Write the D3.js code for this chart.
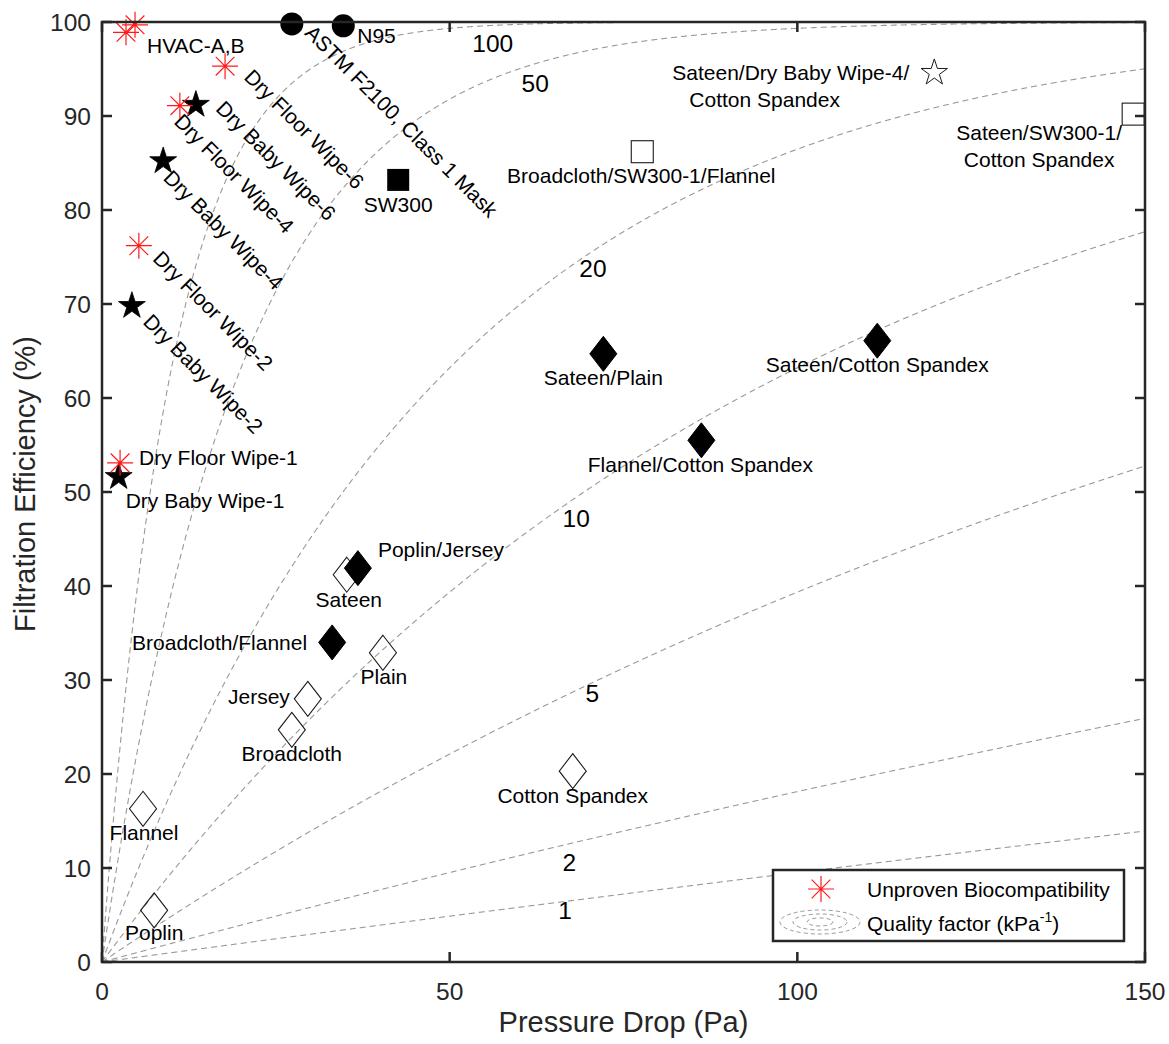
<!DOCTYPE html>
<html><head><meta charset="utf-8">
<script src="https://cdn.jsdelivr.net/npm/d3@7"></script>
<style>body{margin:0;background:#fff}svg{display:block}</style>
</head><body><svg id="c" width="1169" height="1044"></svg>
<script>
// ---------------- data ----------------
const xTicks = [0, 50, 100, 150];
const yTicks = [0, 10, 20, 30, 40, 50, 60, 70, 80, 90, 100];
const xTitle = "Pressure Drop (Pa)";
const yTitle = "Filtration Efficiency (%)";

const qualityFactors = [1, 2, 5, 10, 20, 50, 100];      // kPa^-1
const qfLabelDP = [66.6, 67.2, 70.5, 68.2, 70.6, 62.3, 56.2];
const qfLabelFE = [5.5, 10.6, 28.6, 47.2, 73.8, 93.5, 97.8];

const unprovenNames = ["HVAC-A", "HVAC-B", "Dry Floor Wipe-6", "Dry Floor Wipe-4", "Dry Floor Wipe-2", "Dry Floor Wipe-1"];
const unprovenDP = [3.45, 4.75, 17.7, 11.2, 5.3, 2.6];
const unprovenFE = [98.9, 99.7, 95.3, 91.1, 76.2, 53.1];

const babyWipeNames = ["Dry Baby Wipe-6", "Dry Baby Wipe-4", "Dry Baby Wipe-2", "Dry Baby Wipe-1"];
const babyWipeDP = [13.5, 8.8, 4.3, 2.4];
const babyWipeFE = [91.2, 85.2, 69.8, 51.6];

const maskNames = ["ASTM F2100, Class 1 Mask", "N95"];
const maskDP = [27.3, 34.7];
const maskFE = [99.8, 99.6];

const sw300Names = ["SW300"];
const sw300DP = [42.6];
const sw300FE = [83.2];

const sw300LayerNames = ["Broadcloth/SW300-1/Flannel", "Sateen/SW300-1/Cotton Spandex"];
const sw300LayerDP = [77.7, 148.3];
const sw300LayerFE = [86.2, 90.2];

const wipeLayerNames = ["Sateen/Dry Baby Wipe-4/Cotton Spandex"];
const wipeLayerDP = [119.7];
const wipeLayerFE = [94.6];

const fabricNames = ["Sateen", "Plain", "Jersey", "Broadcloth", "Flannel", "Poplin", "Cotton Spandex"];
const fabricDP = [35.2, 40.4, 29.6, 27.3, 5.9, 7.5, 67.7];
const fabricFE = [41.2, 32.9, 28.0, 24.7, 16.3, 5.5, 20.3];

const fabricLayerNames = ["Sateen/Plain", "Sateen/Cotton Spandex", "Flannel/Cotton Spandex", "Poplin/Jersey", "Broadcloth/Flannel"];
const fabricLayerDP = [72.1, 111.5, 86.2, 36.8, 33.1];
const fabricLayerFE = [64.7, 66.1, 55.5, 41.9, 34.0];

const legendItems = ["Unproven Biocompatibility", "Quality factor (kPa"];

// ---------------- label layout (pixel offsets from marker) ----------------
const labelLayout = {
  "HVAC-A": {text: ["HVAC-A,B"], dx: 21, dy: 21, anchor: "start"},
  "N95": {dx: 14, dy: 17, anchor: "start"},
  "ASTM F2100, Class 1 Mask": {dx: 12, dy: 10, rot: 45},
  "Dry Floor Wipe-6": {dx: 18, dy: 12, rot: 45},
  "Dry Baby Wipe-6": {dx: 19, dy: 5, rot: 45},
  "Dry Floor Wipe-4": {dx: -7, dy: 17, rot: 45},
  "Dry Baby Wipe-4": {dx: -1, dy: 18, rot: 45},
  "Dry Floor Wipe-2": {dx: 13, dy: 14, rot: 45},
  "Dry Baby Wipe-2": {dx: 10, dy: 17, rot: 45},
  "Dry Floor Wipe-1": {dx: 19, dy: 2, anchor: "start"},
  "Dry Baby Wipe-1": {dx: 7, dy: 31, anchor: "start"},
  "SW300": {dx: 0, dy: 32, anchor: "middle"},
  "Broadcloth/SW300-1/Flannel": {dx: -1, dy: 31, anchor: "middle"},
  "Sateen/Dry Baby Wipe-4/Cotton Spandex": {text: ["Sateen/Dry Baby Wipe-4/", "Cotton Spandex"], lines: [[-262, 7], [-245, 34]], anchor: "start"},
  "Sateen/SW300-1/Cotton Spandex": {text: ["Sateen/SW300-1/", "Cotton Spandex"], lines: [[-94, 26], [-94, 53]], anchor: "middle"},
  "Sateen/Plain": {dx: 0, dy: 31, anchor: "middle"},
  "Sateen/Cotton Spandex": {dx: 0, dy: 31, anchor: "middle"},
  "Flannel/Cotton Spandex": {dx: -1, dy: 32, anchor: "middle"},
  "Poplin/Jersey": {dx: 20, dy: -11, anchor: "start"},
  "Sateen": {dx: 2, dy: 32, anchor: "middle"},
  "Broadcloth/Flannel": {dx: -25, dy: 8, anchor: "end"},
  "Plain": {dx: 1, dy: 31, anchor: "middle"},
  "Jersey": {dx: -18, dy: 5, anchor: "end"},
  "Broadcloth": {dx: 0, dy: 31, anchor: "middle"},
  "Flannel": {dx: 1, dy: 31, anchor: "middle"},
  "Poplin": {dx: 0, dy: 30, anchor: "middle"},
  "Cotton Spandex": {dx: 0, dy: 32, anchor: "middle"}
};

// ---------------- setup ----------------
const W = 1169, H = 1044;
const m = {left: 102, right: 24, top: 22, bottom: 82};
const svg = d3.select("#c");
const x = d3.scaleLinear().domain([0, 150]).range([m.left, W - m.right]);
const y = d3.scaleLinear().domain([0, 100]).range([H - m.bottom, m.top]);
const FONT = "'Liberation Sans', Arial, Helvetica, sans-serif";
const AX = "#262626";

const pts = (names, dp, fe) => names.map((n, i) => ({name: n, dp: dp[i], fe: fe[i]}));

svg.append("defs").append("clipPath").attr("id", "plotclip")
  .append("rect").attr("x", x(0)).attr("y", y(100)).attr("width", x(150) - x(0)).attr("height", y(0) - y(100));

// ---------------- quality factor curves ----------------
const dpSamples = d3.range(0, 150.0001, 0.05);
const line = d3.line().x(d => x(d[0])).y(d => y(d[1]));
const gCurves = svg.append("g").attr("clip-path", "url(#plotclip)");
qualityFactors.forEach(q => {
  const data = dpSamples.map(p => [p, 100 * (1 - Math.exp(-q * p / 1000))]);
  gCurves.append("path").attr("d", line(data)).attr("fill", "none")
    .attr("stroke", "#999").attr("stroke-width", 1.1).attr("stroke-dasharray", "6,4");
});
svg.append("g").selectAll("text").data(qualityFactors).join("text")
  .attr("x", (d, i) => x(qfLabelDP[i])).attr("y", (d, i) => y(qfLabelFE[i]))
  .attr("dy", "0.36em").attr("text-anchor", "middle")
  .attr("font-family", FONT).attr("font-size", 24.5).attr("fill", "#000")
  .text(d => d);

// ---------------- markers ----------------
const gM = svg.append("g");
const diamond = "M0,-17.5L13.5,0L0,17.5L-13.5,0Z";

gM.selectAll(".fab").data(pts(fabricNames, fabricDP, fabricFE)).join("path")
  .attr("transform", d => `translate(${x(d.dp)},${y(d.fe)})`)
  .attr("d", diamond).attr("fill", "none").attr("stroke", "#1a1a1a").attr("stroke-width", 1.1);

gM.selectAll(".fabl").data(pts(fabricLayerNames, fabricLayerDP, fabricLayerFE)).join("path")
  .attr("transform", d => `translate(${x(d.dp)},${y(d.fe)})`)
  .attr("d", diamond).attr("fill", "#000").attr("stroke", "#000").attr("stroke-width", 1);

gM.selectAll(".sw").data(pts(sw300Names, sw300DP, sw300FE)).join("rect")
  .attr("x", d => x(d.dp) - 11).attr("y", d => y(d.fe) - 11).attr("width", 22).attr("height", 22)
  .attr("fill", "#000");

gM.selectAll(".swl").data(pts(sw300LayerNames, sw300LayerDP, sw300LayerFE)).join("rect")
  .attr("x", d => x(d.dp) - 11).attr("y", d => y(d.fe) - 11).attr("width", 22).attr("height", 22)
  .attr("fill", "none").attr("stroke", "#1a1a1a").attr("stroke-width", 1.1);

gM.selectAll(".wl").data(pts(wipeLayerNames, wipeLayerDP, wipeLayerFE)).join("path")
  .attr("transform", d => `translate(${x(d.dp)},${y(d.fe)})`)
  .attr("d", d3.symbol().type(d3.symbolStar).size(215)()).attr("fill", "none").attr("stroke", "#1a1a1a").attr("stroke-width", 1);

gM.selectAll(".bw").data(pts(babyWipeNames, babyWipeDP, babyWipeFE)).join("path")
  .attr("transform", d => `translate(${x(d.dp)},${y(d.fe)})`)
  .attr("d", d3.symbol().type(d3.symbolStar).size(225)()).attr("fill", "#000").attr("stroke", "#000").attr("stroke-width", 0.8);

gM.selectAll(".mk").data(pts(maskNames, maskDP, maskFE)).join("circle")
  .attr("cx", d => x(d.dp)).attr("cy", d => y(d.fe)).attr("r", 11.5).attr("fill", "#000");

function asterisk(g, cx, cy, r) {
  const dd = r * 0.72;
  const p = `M${cx - r},${cy}L${cx + r},${cy}M${cx},${cy - r}L${cx},${cy + r}` +
            `M${cx - dd},${cy - dd}L${cx + dd},${cy + dd}M${cx - dd},${cy + dd}L${cx + dd},${cy - dd}`;
  g.append("path").attr("d", p).attr("stroke", "#ff1a1a").attr("stroke-width", 1.2).attr("fill", "none");
}
pts(unprovenNames, unprovenDP, unprovenFE).forEach(d => asterisk(gM, x(d.dp), y(d.fe), 13));

// ---------------- labels ----------------
const allPts = [].concat(
  pts(unprovenNames, unprovenDP, unprovenFE), pts(babyWipeNames, babyWipeDP, babyWipeFE),
  pts(maskNames, maskDP, maskFE), pts(sw300Names, sw300DP, sw300FE),
  pts(sw300LayerNames, sw300LayerDP, sw300LayerFE), pts(wipeLayerNames, wipeLayerDP, wipeLayerFE),
  pts(fabricNames, fabricDP, fabricFE), pts(fabricLayerNames, fabricLayerDP, fabricLayerFE));
const gL = svg.append("g").attr("font-family", FONT).attr("font-size", 21).attr("fill", "#000");
allPts.forEach(d => {
  const L = labelLayout[d.name];
  if (!L) return;
  const px = x(d.dp), py = y(d.fe);
  const texts = L.text || [d.name];
  if (L.rot) {
    gL.append("text").attr("transform", `translate(${px + L.dx},${py + L.dy}) rotate(${L.rot})`)
      .attr("text-anchor", "start").text(texts[0]);
  } else if (L.lines) {
    texts.forEach((t, i) => gL.append("text").attr("x", px + L.lines[i][0]).attr("y", py + L.lines[i][1])
      .attr("text-anchor", L.anchor).text(t));
  } else {
    gL.append("text").attr("x", px + L.dx).attr("y", py + L.dy).attr("text-anchor", L.anchor).text(texts[0]);
  }
});

// ---------------- axes ----------------
const gA = svg.append("g");
const tickLen = 10;
gA.append("rect").attr("x", x(0)).attr("y", y(100)).attr("width", x(150) - x(0)).attr("height", y(0) - y(100))
  .attr("fill", "none").attr("stroke", AX).attr("stroke-width", 2.5);
xTicks.forEach(t => {
  gA.append("line").attr("x1", x(t)).attr("x2", x(t)).attr("y1", y(0)).attr("y2", y(0) - tickLen).attr("stroke", AX).attr("stroke-width", 2.5);
  gA.append("line").attr("x1", x(t)).attr("x2", x(t)).attr("y1", y(100)).attr("y2", y(100) + tickLen).attr("stroke", AX).attr("stroke-width", 2.5);
});
yTicks.forEach(t => {
  gA.append("line").attr("x1", x(0)).attr("x2", x(0) + tickLen).attr("y1", y(t)).attr("y2", y(t)).attr("stroke", AX).attr("stroke-width", 2.5);
  gA.append("line").attr("x1", x(150)).attr("x2", x(150) - tickLen).attr("y1", y(t)).attr("y2", y(t)).attr("stroke", AX).attr("stroke-width", 2.5);
});
const gT = svg.append("g").attr("font-family", FONT).attr("font-size", 24.5).attr("fill", AX);
gT.selectAll(".xt").data(xTicks).join("text").attr("x", d => x(d)).attr("y", 1000)
  .attr("text-anchor", "middle").text(d => d);
gT.selectAll(".yt").data(yTicks).join("text").attr("x", x(0) - 11).attr("y", d => y(d))
  .attr("dy", "0.36em").attr("text-anchor", "end").text(d => d);
svg.append("text").attr("x", (x(0) + x(150)) / 2).attr("y", 1032).attr("text-anchor", "middle")
  .attr("font-family", FONT).attr("font-size", 29).attr("fill", AX).text(xTitle);
svg.append("text").attr("transform", `translate(35,484) rotate(-90)`).attr("text-anchor", "middle")
  .attr("font-family", FONT).attr("font-size", 29).attr("fill", AX).text(yTitle);

// ---------------- legend ----------------
const gLeg = svg.append("g");
gLeg.append("rect").attr("x", 773).attr("y", 870).attr("width", 351).attr("height", 71)
  .attr("fill", "#fff").attr("stroke", AX).attr("stroke-width", 2.5);
asterisk(gLeg, 821, 889, 13);
[[40, 12], [27, 8], [13, 4]].forEach(r => gLeg.append("ellipse").attr("cx", 820).attr("cy", 922)
  .attr("rx", r[0]).attr("ry", r[1]).attr("fill", "none").attr("stroke", "#999").attr("stroke-width", 1)
  .attr("stroke-dasharray", "4,3"));
gLeg.append("text").attr("x", 867).attr("y", 897).attr("font-family", FONT).attr("font-size", 21).attr("fill", "#000")
  .text(legendItems[0]);
const qt = gLeg.append("text").attr("x", 867).attr("y", 931).attr("font-family", FONT).attr("font-size", 21).attr("fill", "#000");
qt.append("tspan").text(legendItems[1]);
qt.append("tspan").attr("dy", -9).attr("font-size", 14).text("-1");
qt.append("tspan").attr("dy", 9).text(")");
</script></body></html>
